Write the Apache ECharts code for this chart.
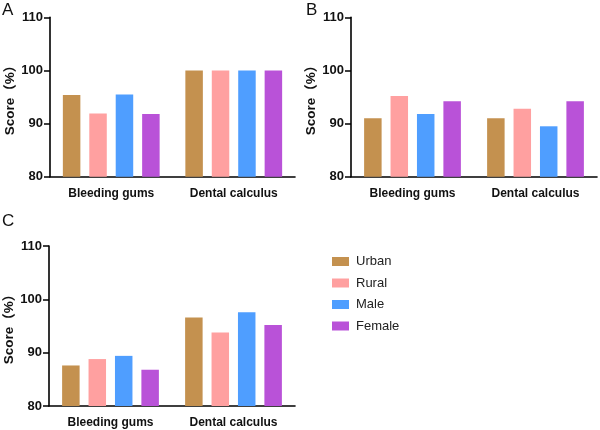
<!DOCTYPE html>
<html>
<head>
<meta charset="utf-8">
<script src="https://cdn.jsdelivr.net/npm/echarts@6/dist/echarts.min.js"></script>
<style>html,body{margin:0;padding:0;background:#fff}#c{width:600px;height:430px}</style>
</head>
<body>
<div id="c"></div>
<script>
const categories = ['Bleeding gums', 'Dental calculus'];
const groupNames = ['Urban', 'Rural', 'Male', 'Female'];
const groupColors = ['#C4914F', '#FFA0A0', '#4F9EFF', '#B952D8'];
const panelLabels = ['A', 'B', 'C'];
const yMin = 80, yMax = 110, yStep = 10;
const yName = 'Score（%）';

// Panel A
const aUrban = [95.4, 100];
const aRural = [91.9, 100];
const aMale = [95.5, 100];
const aFemale = [91.8, 100];
// Panel B
const bUrban = [91.0, 91.0];
const bRural = [95.2, 92.8];
const bMale = [91.8, 89.5];
const bFemale = [94.2, 94.2];
// Panel C
const cUrban = [87.6, 96.6];
const cRural = [88.8, 93.8];
const cMale = [89.4, 97.6];
const cFemale = [86.8, 95.2];

const panels = [
  [aUrban, aRural, aMale, aFemale],
  [bUrban, bRural, bMale, bFemale],
  [cUrban, cRural, cMale, cFemale]
];

const FONT = 'Arial, "Liberation Sans", "Noto Sans CJK SC", sans-serif';
const grids = [
  {left: 50, top: 17.3, width: 245, height: 159.5},
  {left: 351, top: 17.3, width: 246, height: 159.5},
  {left: 49, top: 246, width: 246, height: 160}
];
const titlePos = [{left: 2, top: 2}, {left: 306, top: 2}, {left: 2, top: 213}];

const xAxes = grids.map((g, i) => ({
  type: 'category', gridIndex: i, data: categories,
  axisLine: {lineStyle: {color: '#000', width: 1.6}},
  axisTick: {alignWithLabel: true, length: 6, lineStyle: {color: '#000', width: 1.5}},
  axisLabel: {color: '#111', fontWeight: 'bold', fontSize: 12, fontFamily: FONT, margin: 11}
}));
const yAxes = grids.map((g, i) => ({
  type: 'value', gridIndex: i, min: yMin, max: yMax, interval: yStep,
  name: yName, nameLocation: 'middle', nameGap: 26, nameRotate: 90,
  nameTextStyle: {color: '#111', fontWeight: 'bold', fontSize: 13.5, fontFamily: FONT},
  axisLine: {show: true, lineStyle: {color: '#000', width: 1.6}},
  axisTick: {show: true, length: 6, lineStyle: {color: '#000', width: 1.5}},
  splitLine: {show: false},
  axisLabel: {color: '#111', fontWeight: 'bold', fontSize: 13, fontFamily: FONT, margin: 7}
}));

const series = [];
panels.forEach((p, pi) => {
  p.forEach((vals, si) => {
    series.push({
      type: 'bar', name: groupNames[si], xAxisIndex: pi, yAxisIndex: pi,
      data: vals, barWidth: 17.5, barGap: '51%',
      itemStyle: {color: groupColors[si]}
    });
  });
});

const chart = echarts.init(document.getElementById('c'), null, {renderer: 'canvas'});
chart.setOption({
  animation: false,
  color: groupColors,
  title: panelLabels.map((t, i) => ({
    text: t, left: titlePos[i].left, top: titlePos[i].top, padding: 0,
    textStyle: {fontSize: 17, fontWeight: 'normal', color: '#111', fontFamily: FONT}
  })),
  legend: {
    orient: 'vertical', left: 327, top: 250,
    data: groupNames, itemWidth: 17, itemHeight: 9, itemGap: 8.5,
    icon: 'rect',
    textStyle: {fontSize: 13, color: '#222', fontFamily: FONT, lineHeight: 13, padding: [0, 0, 0, 2]}
  },
  grid: grids,
  xAxis: xAxes,
  yAxis: yAxes,
  series: series
});
</script>
</body>
</html>
